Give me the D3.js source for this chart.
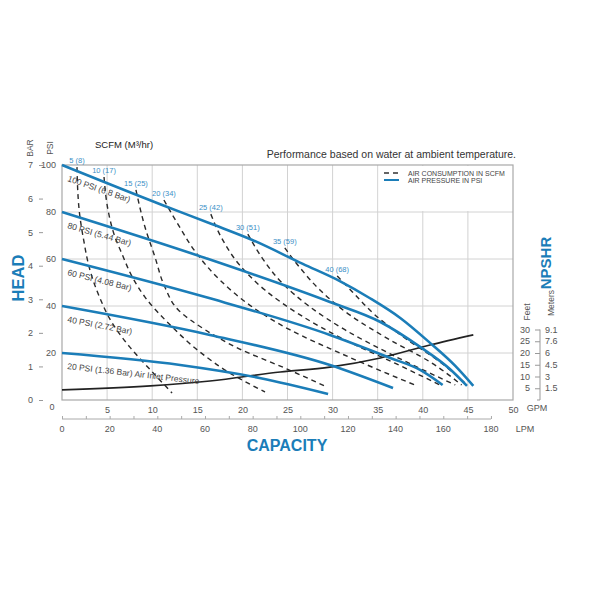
<!DOCTYPE html>
<html>
<head>
<meta charset="utf-8">
<script src="https://cdn.jsdelivr.net/npm/d3@7/dist/d3.min.js"></script>
<style>
  body { margin: 0; background: #fff; }
  svg { display: block; font-family: "Liberation Sans", Arial, sans-serif; }
</style>
</head>
<body>
<svg id="chart" width="600" height="600"></svg>
<script>
// capacity in GPM, head in PSI (NPSHR feet share the same numeric scale)
var gpmTicks = [5, 10, 15, 20, 25, 30, 35, 40, 45, 50];
var lpmLabels = [0, 20, 40, 60, 80, 100, 120, 140, 160, 180];
var lpmMinor = [10, 30, 50, 70, 90, 110, 130, 150, 170];
var psiTicks = [20, 40, 60, 80, 100];
var barTicks = [0, 1, 2, 3, 4, 5, 6, 7];
var feetTicks = [5, 10, 15, 20, 25, 30];
var meterLabels = ['1.5', '3', '4.5', '6', '7.6', '9.1'];

// air inlet pressure curves
var psi100 = [[0, 100], [11.1, 83.0], [16.6, 74.9], [21.1, 68.1], [26.7, 57.9], [30.8, 50.6], [34.1, 43.4], [37.5, 34.9], [40.8, 24.3], [43.6, 14.5], [45.6, 6.0]];
var psi80 = [[0, 80], [15.9, 60.4], [29.7, 41.7], [35.3, 33.2], [39.7, 22.6], [43.0, 13.2], [44.9, 6.0]];
var psi60 = [[0, 60], [15.9, 43.8], [29.7, 27.7], [36.4, 17.9], [39.7, 12.8], [42.2, 6.4]];
var psi40 = [[0, 40], [16.4, 27.7], [29.7, 14.9], [36.7, 5.1]];
var psi20 = [[0, 20], [13.1, 14.9], [21.9, 9.4], [29.5, 2.6]];
var pressureNames = ['100 PSI (6.8 Bar)', '80 PSI (5.44 Bar)', '60 PSI (4.08 Bar)', '40 PSI (2.72 Bar)', '20 PSI (1.36 Bar) Air Inlet Pressure'];

// air consumption curves, SCFM
var scfm5 = [[1.66, 99.1], [1.9, 80.9], [2.4, 68.1], [3.1, 55.3], [4.2, 43.4], [5.5, 33.2], [7.5, 22.6], [9.8, 12.8], [12.2, 3.0]];
var scfm10 = [[4.66, 94.9], [5.1, 80.9], [5.8, 70.2], [6.7, 61.7], [7.8, 52.3], [9.2, 43.8], [12.0, 31.9], [15.3, 20.4], [18.6, 11.5], [22.5, 3.4]];
var scfm15 = [[8.2, 89.4], [9.2, 73.6], [10.3, 60.9], [11.4, 48.1], [12.9, 38.3], [15.9, 29.8], [19.7, 21.7], [24.7, 13.6], [29.4, 5.5]];
var scfm20 = [[11.3, 85.1], [12.9, 74.5], [14.8, 63.0], [17.5, 51.1], [20.8, 40.4], [25.3, 29.8], [30.8, 20.0], [39.1, 6.4]];
var scfm25 = [[16.5, 79.1], [17.7, 68.9], [19.7, 57.4], [22.5, 46.8], [26.4, 36.2], [31.4, 25.5], [36.9, 15.7], [41.9, 6.4]];
var scfm30 = [[20.6, 70.6], [22.2, 60.4], [24.4, 49.8], [27.5, 39.6], [31.4, 29.8], [36.4, 19.6], [43.6, 6.4]];
var scfm35 = [[24.7, 64.7], [26.4, 56.2], [28.6, 46.8], [31.9, 36.2], [36.4, 25.5], [40.8, 16.2], [44.3, 6.4]];
var scfm40 = [[30.5, 52.8], [32.2, 46.0], [34.7, 36.2], [38.0, 26.4], [41.9, 16.2], [44.8, 6.8]];
var scfmNames = ['5 (8)', '10 (17)', '15 (25)', '20 (34)', '25 (42)', '30 (51)', '35 (59)', '40 (68)'];

// NPSHR, feet
var npshr = [[0, 4.3], [9.8, 6.0], [16.4, 8.1], [24.2, 11.9], [29.7, 14.0], [35.3, 17.9], [40.8, 23.4], [45.6, 27.7]];

var blue = '#1b7db8';
var svg = d3.select('#chart');

var x = d3.scaleLinear().domain([0, 50]).range([62, 513]);
var y = d3.scaleLinear().domain([0, 100]).range([400, 165]);
var lpm = d3.scaleLinear().domain([0, 50 * 3.785]).range([62, 513]);
var bar = d3.scaleLinear().domain([0, 7]).range([400, 165]);

var line = d3.line()
  .x(function (d) { return x(d[0]); })
  .y(function (d) { return y(d[1]); })
  .curve(d3.curveMonotoneX);
var steepLine = d3.line()
  .x(function (d) { return x(d[0]); })
  .y(function (d) { return y(d[1]); })
  .curve(d3.curveMonotoneY);

// grid
var grid = svg.append('g').attr('stroke', '#d2d2d2').attr('stroke-width', 1);
grid.selectAll('.v').data(gpmTicks.slice(0, -1)).enter().append('line')
  .attr('x1', function (d) { return x(d); }).attr('x2', function (d) { return x(d); })
  .attr('y1', y(0)).attr('y2', y(100));
grid.selectAll('.h').data(psiTicks.slice(0, -1)).enter().append('line')
  .attr('x1', x(0)).attr('x2', x(50))
  .attr('y1', function (d) { return y(d); }).attr('y2', function (d) { return y(d); });

// legend cell covers the grid in the top right
svg.append('rect')
  .attr('x', x(35) + 1).attr('y', y(100) + 1)
  .attr('width', x(50) - x(35) - 2).attr('height', y(80) - y(100) - 2)
  .attr('fill', '#fff');

svg.append('rect')
  .attr('x', x(0)).attr('y', y(100))
  .attr('width', x(50) - x(0)).attr('height', y(0) - y(100))
  .attr('fill', 'none').attr('stroke', '#a8a8a8').attr('stroke-width', 1.2);

// curves
var airCurves = [scfm5, scfm10, scfm15, scfm20, scfm25, scfm30, scfm35, scfm40];
svg.append('g').selectAll('path').data(airCurves).enter().append('path')
  .attr('d', steepLine)
  .attr('fill', 'none').attr('stroke', '#2a2a2a').attr('stroke-width', 1.4)
  .attr('stroke-dasharray', '5,4');

svg.append('g').selectAll('text').data(airCurves).enter().append('text')
  .attr('x', function (d) { return x(d[0][0]); })
  .attr('y', function (d) { return y(d[0][1]) - 4; })
  .attr('text-anchor', 'middle')
  .attr('font-size', 7.5).attr('fill', '#3a8fc6')
  .text(function (d, i) { return scfmNames[i]; });

svg.append('path').datum(npshr)
  .attr('d', line)
  .attr('fill', 'none').attr('stroke', '#222').attr('stroke-width', 1.6);

var pressureCurves = [psi100, psi80, psi60, psi40, psi20];
svg.append('g').selectAll('path').data(pressureCurves).enter().append('path')
  .attr('d', line)
  .attr('fill', 'none').attr('stroke', blue).attr('stroke-width', 2.6);

var labelAngles = [19, 16, 14, 11, 6.5];
svg.append('g').selectAll('text').data(pressureCurves).enter().append('text')
  .attr('transform', function (d, i) {
    return 'translate(' + (x(0) + 5) + ',' + (y(d[0][1]) + 16) + ')rotate(' + labelAngles[i] + ')';
  })
  .attr('font-size', 8.5).attr('fill', '#444')
  .text(function (d, i) { return pressureNames[i]; });

// left axes
var psiAxis = svg.append('g').attr('transform', 'translate(' + (x(0) - 6) + ',0)')
  .call(d3.axisLeft(y).tickValues(psiTicks).tickSize(0).tickPadding(0));
psiAxis.select('.domain').remove();
psiAxis.selectAll('text').attr('font-size', 9).attr('fill', '#555').attr('font-family', null);
svg.append('text').attr('x', x(0) - 10).attr('y', 410).attr('text-anchor', 'middle')
  .attr('font-size', 9).attr('fill', '#555').text('0');

var barAxis = svg.append('g').attr('transform', 'translate(43,0)')
  .call(d3.axisLeft(bar).tickValues(barTicks).tickSize(4).tickPadding(6).tickFormat(d3.format('d')));
barAxis.select('.domain').remove();
barAxis.selectAll('line').attr('stroke', '#999');
barAxis.selectAll('text').attr('font-size', 9).attr('fill', '#555').attr('font-family', null);

svg.append('text').attr('transform', 'translate(33,148)rotate(-90)')
  .attr('text-anchor', 'middle').attr('font-size', 8.5).attr('fill', '#555').text('BAR');
svg.append('text').attr('transform', 'translate(53,148)rotate(-90)')
  .attr('text-anchor', 'middle').attr('font-size', 8.5).attr('fill', '#555').text('PSI');
svg.append('text').attr('transform', 'translate(24,278)rotate(-90)')
  .attr('text-anchor', 'middle').attr('font-size', 16.5).attr('font-weight', 'bold')
  .attr('fill', blue).text('HEAD');

// bottom axes
var gpmAxis = svg.append('g').attr('transform', 'translate(0,' + (y(0) + 4) + ')')
  .call(d3.axisBottom(x).tickValues(gpmTicks).tickSize(0).tickPadding(3));
gpmAxis.select('.domain').remove();
gpmAxis.selectAll('text').attr('font-size', 9).attr('fill', '#555').attr('font-family', null);
svg.append('text').attr('x', 537).attr('y', 411).attr('text-anchor', 'middle')
  .attr('font-size', 9).attr('fill', '#555').text('GPM');

var lpmAxis = svg.append('g').attr('transform', 'translate(0,419)')
  .call(d3.axisTop(lpm).tickValues(lpmLabels.concat(lpmMinor)).tickSize(3).tickSizeOuter(0).tickFormat(''));
lpmAxis.select('.domain').attr('d', 'M' + lpm(0) + ',0H' + lpm(180));
lpmAxis.selectAll('line, path').attr('stroke', '#aaa');
svg.append('g').selectAll('text').data(lpmLabels).enter().append('text')
  .attr('x', function (d) { return lpm(d); }).attr('y', 432)
  .attr('text-anchor', 'middle').attr('font-size', 9).attr('fill', '#555')
  .text(function (d) { return d; });
svg.append('text').attr('x', 525).attr('y', 432).attr('text-anchor', 'middle')
  .attr('font-size', 9).attr('fill', '#555').text('LPM');
svg.append('text').attr('x', 287).attr('y', 451).attr('text-anchor', 'middle')
  .attr('font-size', 16).attr('font-weight', 'bold').attr('fill', blue).text('CAPACITY');

// NPSHR axis
var feetAxis = svg.append('g').attr('transform', 'translate(540,0)')
  .call(d3.axisLeft(y).tickValues(feetTicks).tickSize(5).tickFormat(''));
feetAxis.select('.domain').attr('d', 'M0,' + y(30) + 'V' + y(0) + 'H-3');
feetAxis.selectAll('line, path').attr('stroke', '#999');
svg.append('g').selectAll('text').data(feetTicks).enter().append('text')
  .attr('x', 530).attr('y', function (d) { return y(d) + 3; })
  .attr('text-anchor', 'end').attr('font-size', 9).attr('fill', '#555')
  .text(function (d) { return d; });
svg.append('g').selectAll('text').data(feetTicks).enter().append('text')
  .attr('x', 545).attr('y', function (d) { return y(d) + 3; })
  .attr('font-size', 9).attr('fill', '#555')
  .text(function (d, i) { return meterLabels[i]; });
svg.append('text').attr('transform', 'translate(530,312)rotate(-90)')
  .attr('text-anchor', 'middle').attr('font-size', 8.5).attr('fill', '#555').text('Feet');
svg.append('text').attr('transform', 'translate(554,303)rotate(-90)')
  .attr('text-anchor', 'middle').attr('font-size', 8.5).attr('fill', '#555').text('Meters');
svg.append('text').attr('transform', 'translate(551,263)rotate(-90)')
  .attr('text-anchor', 'middle').attr('font-size', 15).attr('font-weight', 'bold')
  .attr('fill', blue).text('NPSHR');

// titles
svg.append('text').attr('x', 95).attr('y', 148)
  .attr('font-size', 9.5).attr('fill', '#222').text('SCFM (M³/hr)');
svg.append('text').attr('x', 516).attr('y', 158).attr('text-anchor', 'end')
  .attr('font-size', 10.5).attr('fill', '#333').text('Performance based on water at ambient temperature.');

// legend
var legend = svg.append('g').attr('transform', 'translate(384,0)');
legend.append('line').attr('x1', 0).attr('x2', 15).attr('y1', 173).attr('y2', 173)
  .attr('stroke', '#333').attr('stroke-width', 1.4).attr('stroke-dasharray', '5,4');
legend.append('line').attr('x1', 0).attr('x2', 15).attr('y1', 180).attr('y2', 180)
  .attr('stroke', blue).attr('stroke-width', 2);
legend.append('text').attr('x', 24).attr('y', 175.5).attr('font-size', 7).attr('fill', '#444')
  .text('AIR CONSUMPTION IN SCFM');
legend.append('text').attr('x', 24).attr('y', 182.5).attr('font-size', 7).attr('fill', '#444')
  .text('AIR PRESSURE IN PSI');
</script>
</body>
</html>
